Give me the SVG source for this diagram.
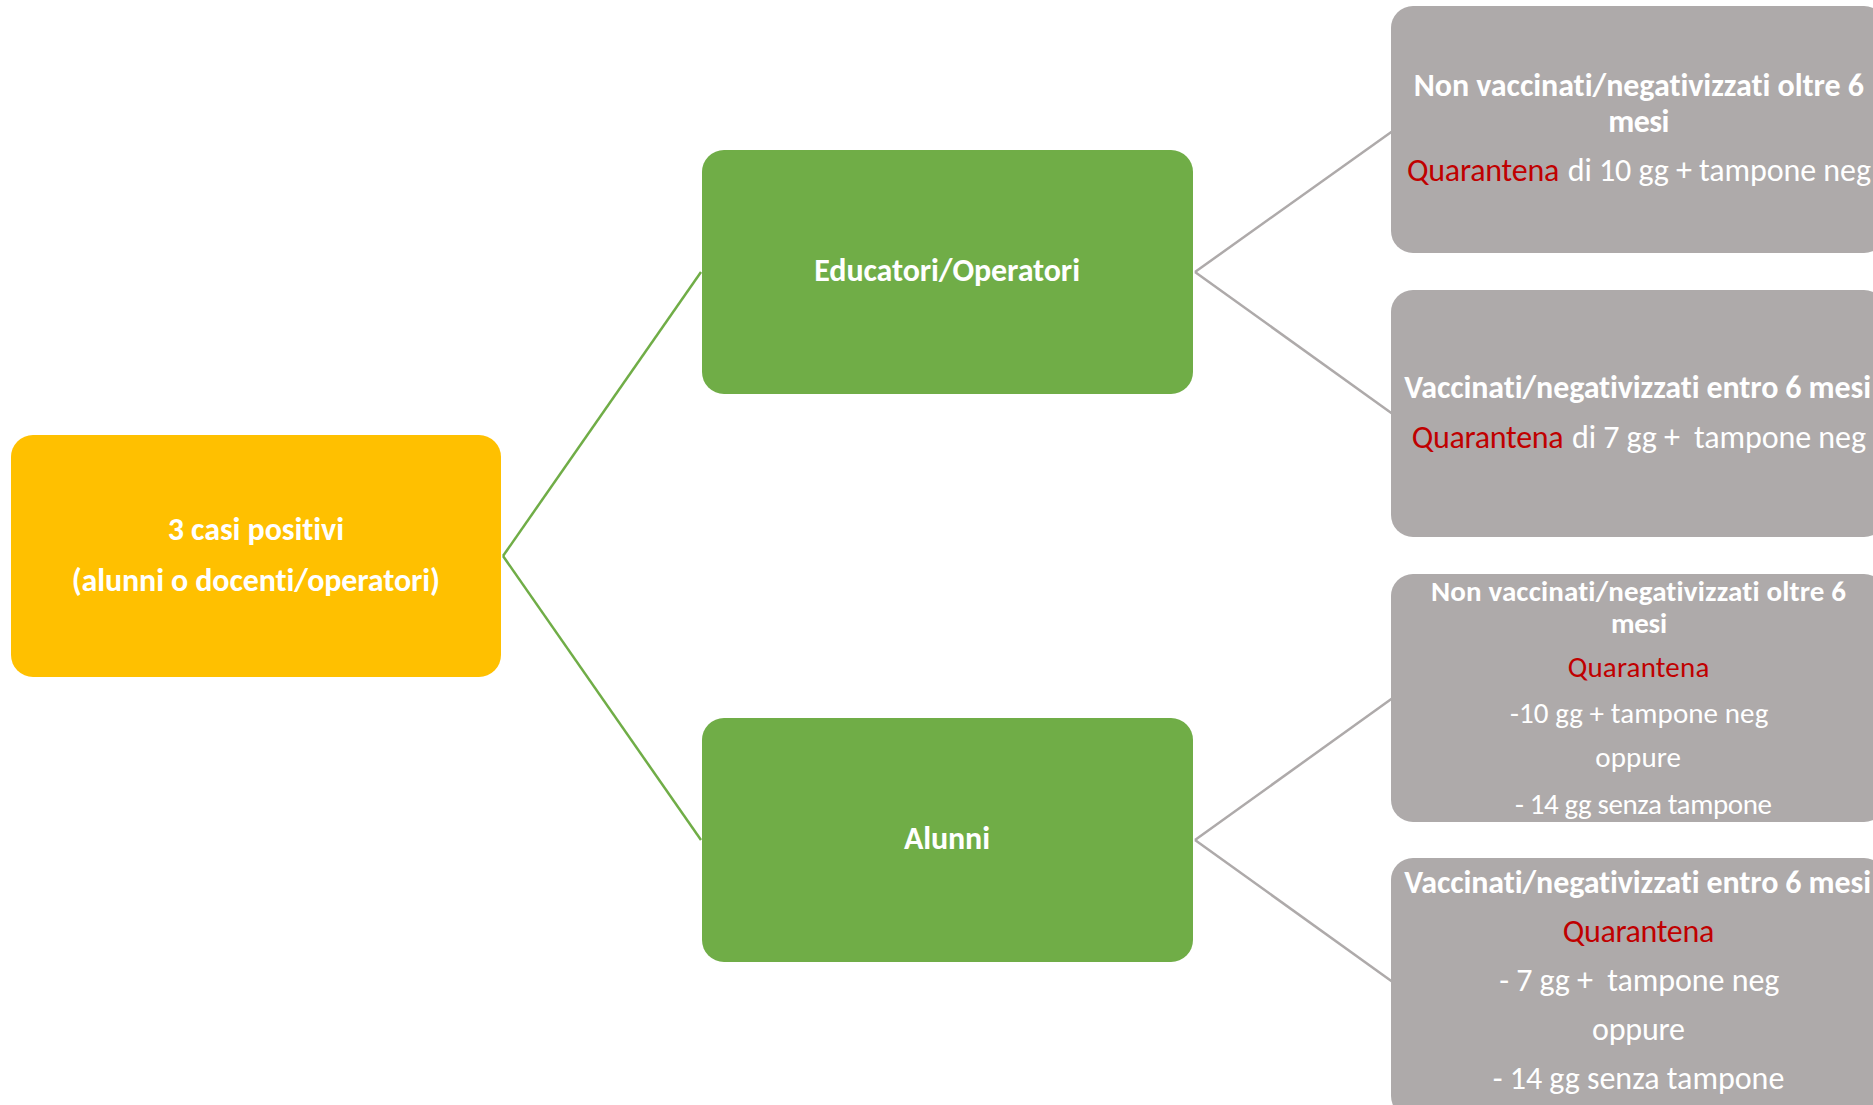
<svg xmlns="http://www.w3.org/2000/svg" width="1873" height="1105" viewBox="0 0 1873 1105">
<style>
text{font-family:Carlito,Calibri,Lato,"Noto Sans",sans-serif;font-variant-ligatures:none;font-feature-settings:"liga" 0,"clig" 0}
.b{font-weight:bold;fill:#FFFFFF;font-size:32px}
.r{font-weight:normal;fill:#FFFFFF;font-size:32px}
.q{fill:#C00000}
.s{font-size:29px}
.pre{white-space:pre}
.yel{fill:#FFC000}
.grn{fill:#70AD47}
.gry{fill:#AEAAAA}
.cg{stroke:#70AD47;stroke-width:2.5;fill:none}
.cx{stroke:#AEAAAA;stroke-width:2.5;fill:none}
</style>
<rect width="1873" height="1105" fill="#FFFFFF"/>
<g id="connectors">
<path class="cg" d="M503,556 L701,272"/>
<path class="cg" d="M503,556 L701,840"/>
<path class="cx" d="M1195,272 L1392,131.5"/>
<path class="cx" d="M1195,272 L1392,413.5"/>
<path class="cx" d="M1195,840 L1392,698.5"/>
<path class="cx" d="M1195,840 L1392,981.5"/>
</g>
<g id="root">
<rect class="yel" x="11" y="435" width="490" height="242" rx="22"/>
<text class="b" x="167.7" y="540" textLength="176.3" lengthAdjust="spacing">3 casi positivi</text>
<text class="b" x="71.7" y="590.7" textLength="368.3" lengthAdjust="spacing">(alunni o docenti/operatori)</text>
</g>
<g id="educatori">
<rect class="grn" x="702" y="150" width="491" height="244" rx="22"/>
<text class="b" x="814.3" y="280.7" textLength="265.7" lengthAdjust="spacing">Educatori/Operatori</text>
</g>
<g id="alunni">
<rect class="grn" x="702" y="718" width="491" height="244" rx="22"/>
<text class="b" x="904" y="849" textLength="86" lengthAdjust="spacing">Alunni</text>
</g>
<g id="edu-non-vacc">
<rect class="gry" x="1391" y="6" width="495" height="247" rx="22"/>
<text class="b" x="1413.7" y="96" textLength="450.3" lengthAdjust="spacing">Non vaccinati/negativizzati oltre 6</text>
<text class="b" x="1608.3" y="131.7" textLength="61" lengthAdjust="spacing">mesi</text>
<text class="r q" x="1407" y="181" textLength="152.3" lengthAdjust="spacing">Quarantena</text>
<text class="r" x="1567.7" y="181" textLength="303.3" lengthAdjust="spacing">di 10 gg + tampone neg</text>
</g>
<g id="edu-vacc">
<rect class="gry" x="1391" y="290" width="495" height="247" rx="22"/>
<text class="b" x="1404.3" y="398.3" textLength="466.7" lengthAdjust="spacing">Vaccinati/negativizzati entro 6 mesi</text>
<text class="r q" x="1411.7" y="447.7" textLength="152" lengthAdjust="spacing">Quarantena</text>
<text class="r pre" x="1572" y="447.7" textLength="294" lengthAdjust="spacing">di 7 gg +  tampone neg</text>
</g>
<g id="alu-non-vacc">
<rect class="gry" x="1391" y="574" width="495" height="248" rx="22"/>
<text class="b s" x="1431" y="601" textLength="415" lengthAdjust="spacing">Non vaccinati/negativizzati oltre 6</text>
<text class="b s" x="1611" y="633.3" textLength="56" lengthAdjust="spacing">mesi</text>
<text class="r s q" x="1567.7" y="676.7" textLength="141.6" lengthAdjust="spacing">Quarantena</text>
<text class="r s" x="1510" y="723.3" textLength="258.3" lengthAdjust="spacing">-10 gg + tampone neg</text>
<text class="r s" x="1595.3" y="766.7" textLength="85.7" lengthAdjust="spacing">oppure</text>
<text class="r s" x="1515" y="814.3" textLength="257" lengthAdjust="spacing">- 14 gg senza tampone</text>
</g>
<g id="alu-vacc">
<rect class="gry" x="1391" y="858" width="495" height="260" rx="22"/>
<text class="b" x="1404.3" y="893.3" textLength="466.7" lengthAdjust="spacing">Vaccinati/negativizzati entro 6 mesi</text>
<text class="r q" x="1562.7" y="941.7" textLength="151.6" lengthAdjust="spacing">Quarantena</text>
<text class="r pre" x="1499.3" y="991" textLength="280" lengthAdjust="spacing">- 7 gg +  tampone neg</text>
<text class="r" x="1592" y="1040" textLength="93" lengthAdjust="spacing">oppure</text>
<text class="r" x="1492.7" y="1089.3" textLength="291.6" lengthAdjust="spacing">- 14 gg senza tampone</text>
</g>
</svg>
